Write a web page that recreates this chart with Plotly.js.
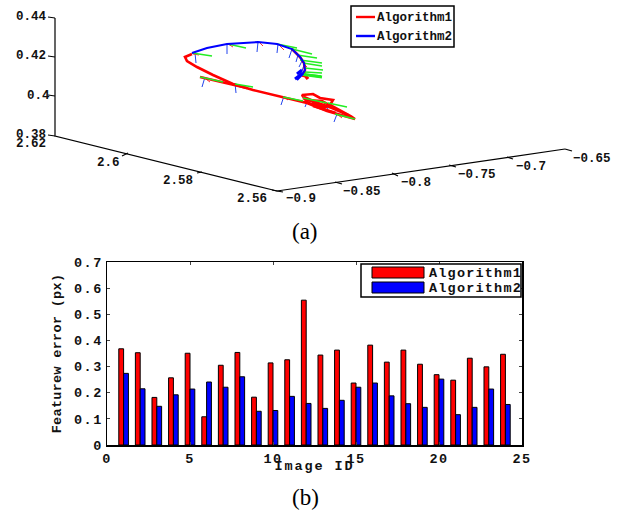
<!DOCTYPE html>
<html><head><meta charset="utf-8">
<script src="https://cdn.plot.ly/plotly-3.0.1.min.js"></script>
<style>html,body{margin:0;padding:0;background:#fff}
#chart .xtick text,#chart .ytick text{letter-spacing:1.5px}
#chart .xtitle{letter-spacing:1.9px;transform:translateY(-5px)}
#chart .ytitle{letter-spacing:.3px}
#chart .annotation[data-index="18"] text,#chart .annotation[data-index="19"] text{letter-spacing:1.2px}
</style></head>
<body><div id="chart" style="width:633px;height:513px"></div>
<script>
// (b) bar chart
const imageIds=[1,2,3,4,5,6,7,8,9,10,11,12,13,14,15,16,17,18,19,20,21,22,23,24];
const algo1=[.368,.353,.182,.257,.351,.108,.305,.354,.183,.314,.326,.554,.344,.363,.237,.382,.317,.363,.309,.269,.248,.332,.299,.347];
const algo2=[.274,.215,.148,.192,.214,.241,.221,.261,.129,.132,.186,.159,.140,.171,.221,.237,.188,.158,.144,.252,.116,.144,.214,.155];
// (a) projected view of the 3-D plot (plane coordinates)
const redX=[192,185,187,197,213,233,253,283,307,327,355,352,340,317,307,302,313,320,333,330,352,null,303,327,313,336,null,306,322,331,null,304,318,332,348,null,200,220,247,null,292,300,304,305,303];
const redY=[54,57,61,67,75,84,90,97,103,111,119,117,115,107,102,95,94,98,100,105,117,null,98,107,106,113,null,100,101,106,null,97,103,108,115,null,77,82,88,null,49,57,63,70,77];
const blueX=[192,207,227,243,258,277,292,300,304,305,302,297];
const blueY=[53,48,44,43,42,44,49,57,63,70,75,80];
const greenX=[192,212,null,228,246,null,277,297,null,292,312,null,297,317,null,300,322,null,303,322,null,305,323,null,305,322,null,303,321,null,300,320,null,200,223,null,235,253,null,283,303,null,303,327,null,328,347,null,335,355];
const greenY=[53,56,null,44,48,null,44,48,null,49,54,null,55,58,null,60,63,null,63,66,null,68,70,null,72,73,null,74,76,null,74,77,null,77,82,null,84,87,null,97,101,null,98,103,null,103,107,null,114,119];
const tickBlueX=[195,196,null,227,227,null,258,257,null,278,277,null,292,289,null,298,296,null,302,299,null,304,302,null,305,302,null,205,202,null,235,236,null,284,281,null,307,305,null,329,327,null,337,334];
const tickBlueY=[53,63,null,44,54,null,42,52,null,44,53,null,49,58,null,55,62,null,61,67,null,65,71,null,70,75,null,77,87,null,83,93,null,96,105,null,102,107,null,103,111,null,114,122];
const tickRedX=[193,199,null,228,233,null,259,263,null,278,284,null,292,297,null,298,303,null,302,307,null,203,210,null,284,288,null,337,342];
const tickRedY=[54,55,null,44,47,null,42,46,null,44,50,null,49,54,null,55,60,null,62,67,null,77,82,null,97,100,null,114,118];
const blobRedX=[303,306,308,null,312,318,322,null,305];
const blobRedY=[73,76,79,null,103,106,107,null,78];
const blobBlueX=[297,300,302,null,295,299,303];
const blobBlueY=[74,72,70,null,79,76,73];
const blobGreenX=[300,322];
const blobGreenY=[74,77];
const frameX=[55,55,277,565,null,48,55,null,48,55,null,48,55,null,48,55,null,122,128,null,197,202,null,272,277,null,277,283,null,335,342,null,392,398,null,449,456,null,507,513,null,565,572];
const frameY=[18,136,191,149,null,17,18,null,56,57,null,95,96,null,135,136,null,156,153,null,173,172,null,190,191,null,191,192,null,182,184,null,173,176,null,165,167,null,157,159,null,149,151];
const tickTexts=['0.44','0.42','0.4','0.38','2.62','2.6','2.58','2.56','\u22120.9','\u22120.85','\u22120.8','\u22120.75','\u22120.7','\u22120.65'];
const tickPx=[31,31,38,31,31,108,178,252,301,362,416,477,531,592];
const tickPy=[17,56,96,135,144,163,181,199,199,192,183,175,167,159];
const legendNames=['Algorithm1','Algorithm2'];

const monoTop={family:'"Liberation Mono",monospace',size:12.5,color:'#111',weight:'bold'};
const mono={family:'"Liberation Mono",monospace',size:13.5,color:'#111',weight:'bold'};
const L=(x,y,c,w,extra)=>Object.assign({x,y,mode:'lines',xaxis:'x2',yaxis:'y2',line:{color:c,width:w},showlegend:false,hoverinfo:'skip'},extra||{});
const data=[
 {type:'bar',x:imageIds,y:algo1,name:legendNames[0],marker:{color:'#ff0000',line:{color:'#000',width:1}}},
 {type:'bar',x:imageIds,y:algo2,name:legendNames[1],marker:{color:'#0000ff',line:{color:'#000',width:1}}},
 L(frameX,frameY,'#000',1.2),
 L(tickBlueX,tickBlueY,'#2244ee',1),
 L(tickRedX,tickRedY,'#ff3333',1),
 L(redX,redY,'#ff0000',2.6,{name:legendNames[0]}),
 L(blobRedX,blobRedY,'#ff0000',3.5),
 L(greenX,greenY,'#22ee22',1.4),
 L(blobGreenX,blobGreenY,'#22ee22',3),
 L(blueX,blueY,'#0000ff',2,{name:legendNames[1]}),
 L(blobBlueX,blobBlueY,'#0000ff',3),
];
const anns=tickTexts.map((t,i)=>({text:t,xref:'x2',yref:'y2',x:tickPx[i],y:tickPy[i],showarrow:false,font:monoTop,xanchor:'center',yanchor:'middle'}));
const serif={family:'"Liberation Serif",serif',size:23,color:'#000'};
anns.push({text:'(a)',xref:'x2',yref:'y2',x:305,y:231,showarrow:false,font:serif});
anns.push({text:'(b)',xref:'x2',yref:'y2',x:305,y:497,showarrow:false,font:serif});
legendNames.forEach((t,i)=>anns.push({text:t,xref:'x2',yref:'y2',x:375,y:18+19*i,showarrow:false,font:monoTop,xanchor:'left',yanchor:'middle'}));
legendNames.forEach((t,i)=>anns.push({text:t,xref:'x2',yref:'y2',x:432.5,y:273+15*i,showarrow:false,font:mono,xanchor:'left',yanchor:'middle'}));
const box=(x0,x1,y0,y1,fill,w)=>({type:'rect',xref:'x2',yref:'y2',x0,x1,y0,y1,fillcolor:fill,line:{color:'#000',width:w},layer:'above'});
const seg=(x0,x1,y,c)=>({type:'line',xref:'x2',yref:'y2',x0,x1,y0:y,y1:y,line:{color:c,width:2.4},layer:'above'});
const shapes=[box(351,454,6,47,'#fff',1.5),seg(356,375,17,'#ff0000'),seg(356,375,36,'#0000ff'),
 box(361,521,264,297,'#fff',1.5),box(372,424,267,278,'#ff0000',1),box(372,424,282,293,'#0000ff',1)];
const axisBase={ticks:'inside',ticklen:3,showline:true,mirror:'ticks',linecolor:'#000',linewidth:1.5,showgrid:false,zeroline:false,tickfont:mono};
const layout={width:633,height:513,margin:{l:0,r:0,t:0,b:0},paper_bgcolor:'#fff',plot_bgcolor:'rgba(0,0,0,0)',barmode:'group',bargap:.42,bargroupgap:0,showlegend:false,
 xaxis:Object.assign({},axisBase,{domain:[107/633,522/633],range:[0,25],tickvals:[0,5,10,15,20,25],anchor:'y',title:{text:'Image ID',font:mono,standoff:0}}),
 yaxis:Object.assign({},axisBase,{domain:[1-445/513,1-262/513],range:[0,.7],tickvals:[0,.1,.2,.3,.4,.5,.6,.7],ticktext:['0','0.1','0.2','0.3','0.4','0.5','0.6','0.7'],anchor:'x',title:{text:'Featurew error (px)',font:mono,standoff:14}}),
 xaxis2:{domain:[0,1],range:[0,633],visible:false,anchor:'y2'},
 yaxis2:{domain:[0,1],range:[513,0],visible:false,anchor:'x2'},
 shapes,annotations:anns};
Plotly.newPlot('chart',data,layout,{displayModeBar:false,staticPlot:true});
</script></body></html>
